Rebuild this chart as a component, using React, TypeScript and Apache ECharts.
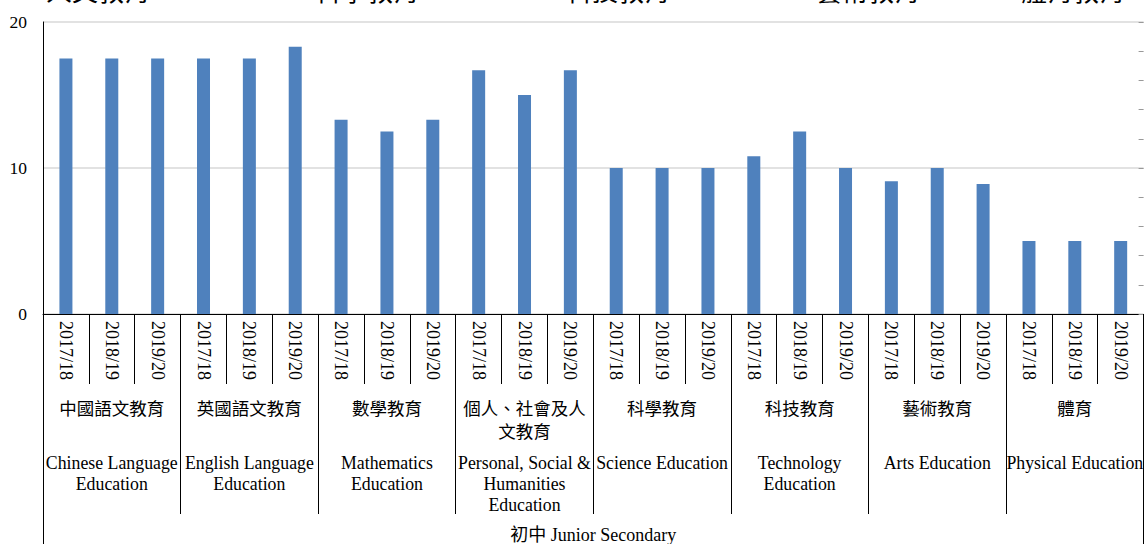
import React, { useEffect, useRef } from "react";
import * as echarts from "echarts";

// ---- data ----
const years = ["2017/18", "2018/19", "2019/20"];
const groupsZh = [
  ["中國語文教育"],
  ["英國語文教育"],
  ["數學教育"],
  ["個人、社會及人", "文教育"],
  ["科學教育"],
  ["科技教育"],
  ["藝術教育"],
  ["體育"],
];
const groupsEn = [
  ["Chinese Language", "Education"],
  ["English Language", "Education"],
  ["Mathematics", "Education"],
  ["Personal, Social &", "Humanities", "Education"],
  ["Science Education"],
  ["Technology", "Education"],
  ["Arts Education"],
  ["Physical Education"],
];
const values2017 = [17.5, 17.5, 13.3, 16.7, 10, 10.8, 9.1, 5];
const values2018 = [17.5, 17.5, 12.5, 15, 10, 12.5, 10, 5];
const values2019 = [17.5, 18.3, 13.3, 16.7, 10, 10, 8.9, 5];
const levelLabel = "初中 Junior Secondary";
const yTicks = [0, 10, 20];
const headerTexts = ["人文教育", "科學教育", "科技教育", "藝術教育", "體育教育"];

const SERIF = "'Liberation Serif', 'Times New Roman', 'Noto Sans CJK TC', serif";
const CJK = "'Noto Sans CJK TC', 'Liberation Serif', serif";

export default function App() {
  const ref = useRef<HTMLDivElement>(null);
  useEffect(() => {
    if (!ref.current) return;
    const chart = echarts.init(ref.current, null, { renderer: "svg" });
    const yearData = [values2017, values2018, values2019];
    const categories: string[] = [];
    const values: number[] = [];
    groupsZh.forEach((g, gi) => {
      years.forEach((y, yi) => {
        categories.push(g.join("") + "|" + y);
        values.push(yearData[yi][gi]);
      });
    });
    const groupKeys = groupsZh.map((g) => g.join(""));
    const headerX = [46, 315, 566, 816, 1021];

    chart.setOption({
      animation: false,
      backgroundColor: "#ffffff",
      textStyle: { fontFamily: SERIF },
      grid: { left: 43, top: 22, right: -1, height: 293, containLabel: false },
      graphic: headerTexts.map((t, i) => ({
        type: "text",
        x: headerX[i],
        y: 2,
        silent: true,
        style: {
          text: t,
          fontSize: 26,
          fontFamily: CJK,
          fill: "#000",
          verticalAlign: "bottom",
        },
      })),
      xAxis: [
        {
          type: "category",
          data: categories,
          position: "bottom",
          axisLine: { show: true, lineStyle: { color: "#000", width: 1 } },
          axisTick: {
            show: true,
            interval: 0,
            length: 70,
            alignWithLabel: false,
            lineStyle: { color: "#000", width: 1 },
          },
          axisLabel: {
            interval: 0,
            rotate: -90,
            margin: 7,
            fontSize: 18,
            color: "#000",
            fontFamily: SERIF,
            formatter: (v: string) => v.split("|")[1],
          },
        },
        {
          type: "category",
          data: groupKeys,
          position: "bottom",
          axisLine: { show: false },
          axisTick: {
            show: true,
            interval: 0,
            length: 200,
            lineStyle: { color: "#000", width: 1 },
          },
          axisLabel: {
            interval: 0,
            margin: 82,
            color: "#000",
            formatter: (_v: string, idx: number) => {
              const zh = groupsZh[idx].slice();
              if (zh.length < 2) zh.push(" ");
              const en = groupsEn[idx];
              return [
                ...zh.map((l) => `{zh|${l}}`),
                "{gap| }",
                ...en.map((l) => `{en|${l}}`),
              ].join("\n");
            },
            rich: {
              zh: { fontSize: 17.5, lineHeight: 23, fontFamily: CJK, color: "#000" },
              gap: { fontSize: 1, lineHeight: 10 },
              en: { fontSize: 17.8, lineHeight: 21, fontFamily: SERIF, color: "#000" },
            },
          },
        },
        {
          type: "category",
          data: [levelLabel],
          position: "bottom",
          axisLine: { show: false },
          axisTick: {
            show: true,
            interval: 0,
            length: 230,
            lineStyle: { color: "#000", width: 1 },
          },
          axisLabel: {
            interval: 0,
            margin: 212,
            fontSize: 18,
            lineHeight: 18,
            color: "#000",
            fontFamily: SERIF,
          },
        },
      ],
      yAxis: [
        {
          type: "value",
          min: yTicks[0],
          max: yTicks[yTicks.length - 1],
          interval: 10,
          axisLine: { show: true, lineStyle: { color: "#000", width: 1 } },
          axisTick: { show: false },
          axisLabel: { color: "#000", fontSize: 17.5, margin: 16, fontFamily: SERIF },
          splitLine: { show: true, lineStyle: { color: "#d9d9d9", width: 1.5 } },
        },
        {
          type: "value",
          position: "right",
          min: 0,
          max: 20,
          interval: 2,
          axisLine: { show: false },
          axisTick: { show: true, inside: true, length: 5, lineStyle: { color: "#999" } },
          axisLabel: { show: false },
          splitLine: { show: false },
        },
      ],
      series: [
        {
          type: "bar",
          xAxisIndex: 0,
          yAxisIndex: 0,
          data: values,
          barWidth: 13,
          itemStyle: { color: "#4f81bd" },
          silent: true,
        },
      ],
    });
    return () => chart.dispose();
  }, []);
  return (
    <div
      ref={ref}
      style={{ position: "fixed", left: 0, top: 0, width: 1146, height: 544, background: "#fff" }}
    />
  );
}
